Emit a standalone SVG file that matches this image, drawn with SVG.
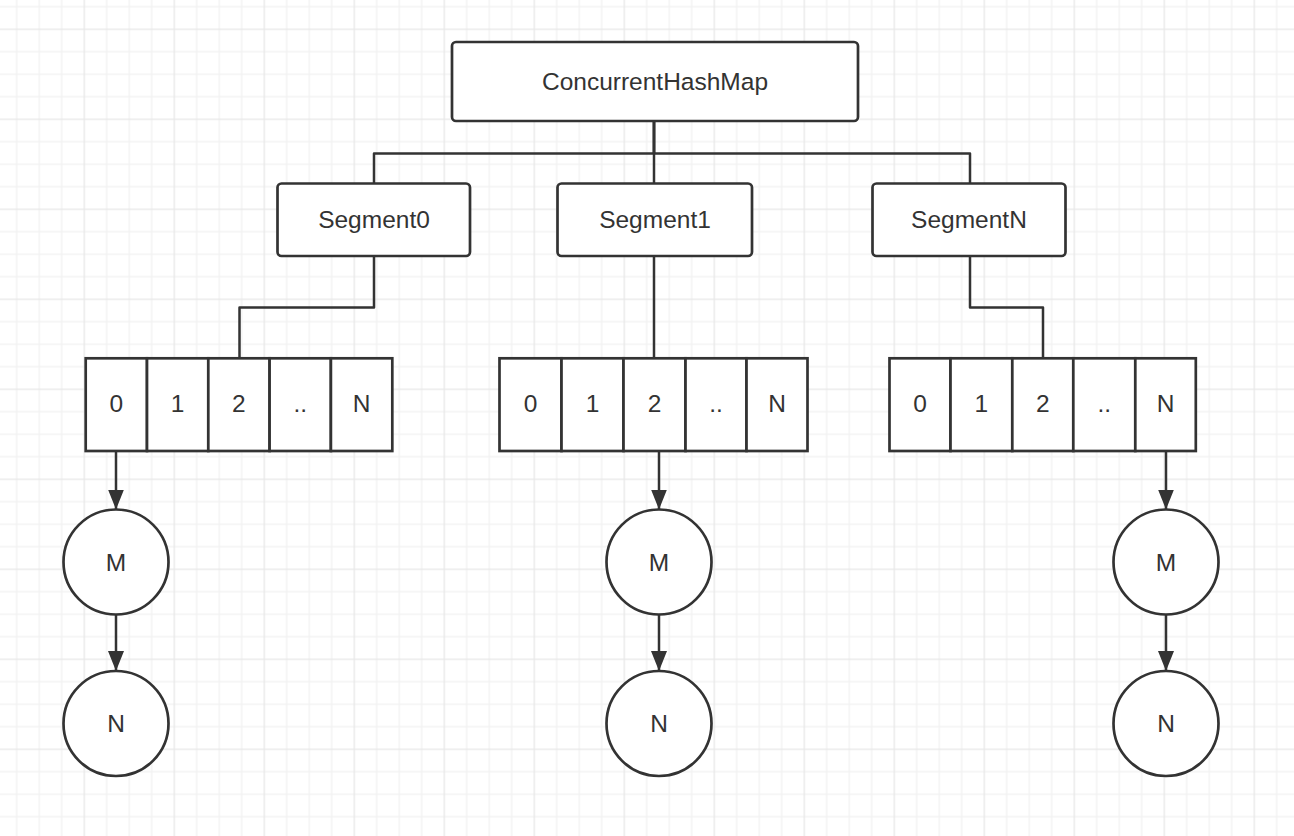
<svg xmlns="http://www.w3.org/2000/svg" width="1294" height="836" viewBox="0 0 1294 836">
  <defs>
    <!-- background grid: minor every 22.5px, major every 4th line -->
    <pattern id="grid" patternUnits="userSpaceOnUse" x="83.55" y="28.55" width="90" height="90">
      <rect x="0" y="0" width="90" height="90" fill="#ffffff"/>
      <g fill="#f2f2f2">
        <rect x="22.5" y="0" width="1.3" height="90"/>
        <rect x="45" y="0" width="1.3" height="90"/>
        <rect x="67.5" y="0" width="1.3" height="90"/>
        <rect x="0" y="22.5" width="90" height="1.3"/>
        <rect x="0" y="45" width="90" height="1.3"/>
        <rect x="0" y="67.5" width="90" height="1.3"/>
      </g>
      <g fill="#e8e8e8">
        <rect x="0" y="0" width="1.3" height="90"/>
        <rect x="0" y="0" width="90" height="1.3"/>
      </g>
    </pattern>
    <marker id="arrow" markerUnits="userSpaceOnUse" markerWidth="20" markerHeight="20" viewBox="0 0 20 16" refX="20" refY="8" orient="auto">
      <path d="M0,0 L20,8 L0,16 Z" fill="#333333"/>
    </marker>
    <style>
      .box { fill: #ffffff; stroke: #333333; stroke-width: 2.7; }
      .cell { fill: #ffffff; stroke: #333333; stroke-width: 2.7; }
      .edge { fill: none; stroke: #333333; stroke-width: 2.5; stroke-linejoin: round; }
      .label { font-family: "Liberation Sans", Arial, sans-serif; font-size: 24.5px; fill: #333333; text-anchor: middle; }
    </style>
  </defs>

  <rect x="0" y="0" width="1294" height="836" fill="url(#grid)"/>

  <!-- connectors -->
  <g id="connectors">
    <path class="edge" d="M654 121 V153.5 H374 V183.5"/>
    <path class="edge" d="M654 121 V183.5"/>
    <path class="edge" d="M654 121 V153.5 H970 V183.5"/>
    <path class="edge" d="M374 256 V307.5 H239.5 V358"/>
    <path class="edge" d="M654 256 V358"/>
    <path class="edge" d="M970 256 V307.5 H1043 V358"/>
    <path class="edge" d="M116 451 V509.5" marker-end="url(#arrow)"/>
    <path class="edge" d="M116 615 V671" marker-end="url(#arrow)"/>
    <path class="edge" d="M659 451 V509.5" marker-end="url(#arrow)"/>
    <path class="edge" d="M659 615 V671" marker-end="url(#arrow)"/>
    <path class="edge" d="M1166 451 V509.5" marker-end="url(#arrow)"/>
    <path class="edge" d="M1166 615 V671" marker-end="url(#arrow)"/>
  </g>

  <!-- root map -->
  <g id="concurrent-hash-map">
    <rect class="box" x="452" y="42" width="406" height="79" rx="4"/>
    <text class="label" x="655" y="90">ConcurrentHashMap</text>
  </g>

  <!-- segments -->
  <g id="segment0">
    <rect class="box" x="277.5" y="183.5" width="192.5" height="72.5" rx="4"/>
    <text class="label" x="374" y="228">Segment0</text>
  </g>
  <g id="segment1">
    <rect class="box" x="557.5" y="183.5" width="194.5" height="72.5" rx="4"/>
    <text class="label" x="655" y="228">Segment1</text>
  </g>
  <g id="segmentN">
    <rect class="box" x="872.5" y="183.5" width="193" height="72.5" rx="4"/>
    <text class="label" x="969" y="228">SegmentN</text>
  </g>

  <!-- bucket table of Segment0 -->
  <g id="table0">
    <rect class="cell" x="85.7" y="358.3" width="61.3" height="92.7"/>
    <rect class="cell" x="147" y="358.3" width="61.3" height="92.7"/>
    <rect class="cell" x="208.3" y="358.3" width="61.3" height="92.7"/>
    <rect class="cell" x="269.6" y="358.3" width="61.3" height="92.7"/>
    <rect class="cell" x="330.9" y="358.3" width="61.4" height="92.7"/>
    <text class="label" x="116.3" y="412">0</text>
    <text class="label" x="177.6" y="412">1</text>
    <text class="label" x="238.9" y="412">2</text>
    <text class="label" x="300.2" y="412">..</text>
    <text class="label" x="361.6" y="412">N</text>
  </g>

  <!-- bucket table of Segment1 -->
  <g id="table1">
    <rect class="cell" x="499.5" y="358.3" width="62" height="92.7"/>
    <rect class="cell" x="561.5" y="358.3" width="62" height="92.7"/>
    <rect class="cell" x="623.5" y="358.3" width="62" height="92.7"/>
    <rect class="cell" x="685.5" y="358.3" width="61" height="92.7"/>
    <rect class="cell" x="746.5" y="358.3" width="61" height="92.7"/>
    <text class="label" x="530.5" y="412">0</text>
    <text class="label" x="592.5" y="412">1</text>
    <text class="label" x="654.5" y="412">2</text>
    <text class="label" x="716" y="412">..</text>
    <text class="label" x="777" y="412">N</text>
  </g>

  <!-- bucket table of SegmentN -->
  <g id="tableN">
    <rect class="cell" x="889.5" y="358.3" width="61" height="92.7"/>
    <rect class="cell" x="950.5" y="358.3" width="61.8" height="92.7"/>
    <rect class="cell" x="1012.3" y="358.3" width="61" height="92.7"/>
    <rect class="cell" x="1073.3" y="358.3" width="62" height="92.7"/>
    <rect class="cell" x="1135.3" y="358.3" width="60.5" height="92.7"/>
    <text class="label" x="920" y="412">0</text>
    <text class="label" x="981.4" y="412">1</text>
    <text class="label" x="1042.8" y="412">2</text>
    <text class="label" x="1104.3" y="412">..</text>
    <text class="label" x="1165.5" y="412">N</text>
  </g>

  <!-- entry chains -->
  <g id="entry0-m">
    <circle class="box" cx="116" cy="562" r="52.5"/>
    <text class="label" x="116" y="570.5">M</text>
  </g>
  <g id="entry0-n">
    <circle class="box" cx="116" cy="723.5" r="52.5"/>
    <text class="label" x="116" y="732">N</text>
  </g>
  <g id="entry1-m">
    <circle class="box" cx="659" cy="562" r="52.5"/>
    <text class="label" x="659" y="570.5">M</text>
  </g>
  <g id="entry1-n">
    <circle class="box" cx="659" cy="723.5" r="52.5"/>
    <text class="label" x="659" y="732">N</text>
  </g>
  <g id="entryN-m">
    <circle class="box" cx="1166" cy="562" r="52.5"/>
    <text class="label" x="1166" y="570.5">M</text>
  </g>
  <g id="entryN-n">
    <circle class="box" cx="1166" cy="723.5" r="52.5"/>
    <text class="label" x="1166" y="732">N</text>
  </g>
</svg>
